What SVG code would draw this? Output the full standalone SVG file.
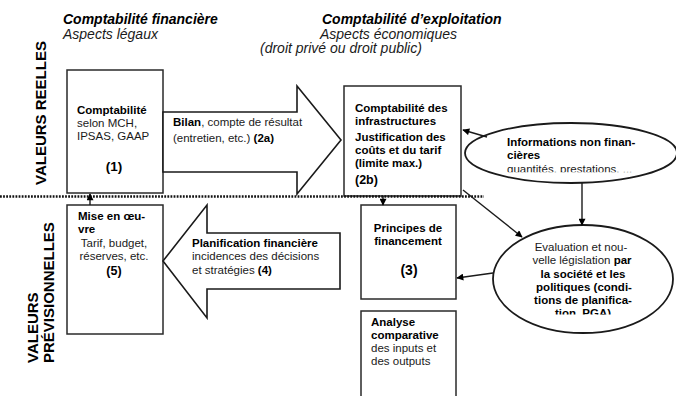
<svg xmlns="http://www.w3.org/2000/svg" width="676" height="396" viewBox="0 0 676 396">
<style>
text{font-family:"Liberation Sans",Arial,sans-serif;fill:#1a1a1a;font-size:11.5px}
.b{font-weight:bold;fill:#000}
.title{font-size:14px;font-style:italic}
.vert{font-size:15px;font-weight:bold;fill:#000}
.box{fill:#fff;stroke:#2a2a2a;stroke-width:1.5}
.big{fill:#fff;stroke:#1a1a1a;stroke-width:1.6;stroke-linejoin:miter}
.ell{fill:#fff;stroke:#1a1a1a;stroke-width:1.8}
.con{stroke:#1a1a1a;stroke-width:1.4;fill:none}
.mid{text-anchor:middle}
</style>
<defs>
<marker id="ah" viewBox="0 0 10 10" refX="9" refY="5" markerWidth="9" markerHeight="7" markerUnits="userSpaceOnUse" orient="auto">
<path d="M0,0 L10,5 L0,10 z" fill="#000"/>
</marker>
<clipPath id="clipInfo"><rect x="460" y="120" width="216" height="52.3"/></clipPath>
<clipPath id="clipEval"><rect x="490" y="225" width="186" height="89.5"/></clipPath>
</defs>
<rect width="676" height="396" fill="#fff"/>

<g id="headings">
<text class="title b" x="63" y="24">Comptabilité financière</text>
<text class="title" x="63" y="38.5">Aspects légaux</text>
<text class="title b" x="322" y="24">Comptabilité d’exploitation</text>
<text class="title" x="320" y="38.5">Aspects économiques</text>
<text class="title" x="260" y="53">(droit privé ou droit public)</text>
<text class="vert" transform="translate(46,185) rotate(-90)">VALEURS REELLES</text>
<text class="vert" transform="translate(38,363) rotate(-90)">VALEURS</text>
<text class="vert" transform="translate(54,363) rotate(-90)">PRÉVISIONNELLES</text>
</g>

<g id="node-box1">
<rect class="box" x="67" y="70" width="96" height="123"/>
<text class="b" x="77" y="114">Comptabilité</text>
<text x="77" y="127">selon MCH,</text>
<text x="77" y="140">IPSAS, GAAP</text>
<text class="b mid" x="114" y="171" style="font-size:13.5px">(1)</text>
</g>

<g id="node-arrow2a">
<polygon class="big" points="163,112 297,112 297,86 341,140 297,194 297,172 163,172"/>
<text x="173" y="126"><tspan class="b">Bilan</tspan>, compte de résultat</text>
<text x="173" y="142">(entretien, etc.)  <tspan class="b">(2a)</tspan></text>
</g>

<g id="node-box2b">
<rect class="box" x="344" y="86" width="117" height="110"/>
<text class="b" x="355" y="112">Comptabilité des</text>
<text class="b" x="355" y="125">infrastructures</text>
<text class="b" x="355" y="141">Justification des</text>
<text class="b" x="355" y="154">coûts et du tarif</text>
<text class="b" x="355" y="167">(limite max.)</text>
<text class="b" x="355" y="184" style="font-size:12.5px">(2b)</text>
</g>

<g id="node-info">
<ellipse class="ell" cx="571" cy="153" rx="106" ry="30"/>
<g clip-path="url(#clipInfo)">
<text class="b" x="507" y="146">Informations non finan-</text>
<text class="b" x="507" y="159">cières</text>
<text x="507" y="173">quantités, prestations, ...</text>
</g>
</g>

<g id="separator">
<line x1="0" y1="196.5" x2="484" y2="196.5" stroke="#111" stroke-width="2.6" stroke-dasharray="1.8 1.3"/>
</g>

<g id="node-box5">
<rect class="box" x="67" y="205" width="96" height="129"/>
<text class="b" x="78" y="220">Mise en œu-</text>
<text class="b" x="78" y="233">vre</text>
<text class="mid" x="114" y="247">Tarif, budget,</text>
<text class="mid" x="114" y="260">réserves, etc.</text>
<text class="b mid" x="114" y="275" style="font-size:12.5px">(5)</text>
</g>

<g id="node-arrow4">
<polygon class="big" points="163,261 207,205 207,233 340,233 340,289 207,289 207,318"/>
<text class="b" x="192" y="247">Planification financière</text>
<text x="192" y="260">incidences des décisions</text>
<text x="192" y="274">et stratégies <tspan class="b">(4)</tspan></text>
</g>

<g id="node-box3">
<rect class="box" x="361" y="205" width="95" height="94"/>
<text class="b mid" x="408" y="232">Principes de</text>
<text class="b mid" x="408" y="245">financement</text>
<text class="b mid" x="409" y="275" style="font-size:14px">(3)</text>
</g>

<g id="node-analyse">
<rect class="box" x="361" y="311" width="95" height="100"/>
<text class="b" x="371" y="326">Analyse</text>
<text class="b" x="371" y="339">comparative</text>
<text x="371" y="352">des inputs et</text>
<text x="371" y="365">des outputs</text>
</g>

<g id="node-eval">
<ellipse class="ell" cx="583" cy="279" rx="90" ry="54"/>
<g clip-path="url(#clipEval)">
<text class="mid" x="581" y="251">Evaluation et nou-</text>
<text class="mid" x="582" y="264">velle législation <tspan class="b">par</tspan></text>
<text class="b mid" x="583" y="278">la société et les</text>
<text class="b mid" x="584" y="291">politiques (condi-</text>
<text class="b mid" x="583" y="304">tions de planifica-</text>
<text class="b mid" x="583" y="317">tion, PGA)</text>
</g>
</g>

<g id="connectors">
<line class="con" x1="90" y1="205" x2="90" y2="194" marker-end="url(#ah)"/>
<line class="con" x1="487" y1="137" x2="463" y2="130" marker-end="url(#ah)"/>
<line class="con" x1="582" y1="183" x2="582" y2="225" marker-end="url(#ah)"/>
<line class="con" x1="463" y1="190" x2="522" y2="237" marker-end="url(#ah)"/>
<line class="con" x1="383" y1="196" x2="383" y2="205" marker-end="url(#ah)"/>
<line class="con" x1="493" y1="273" x2="457" y2="278" marker-end="url(#ah)"/>
</g>
</svg>
